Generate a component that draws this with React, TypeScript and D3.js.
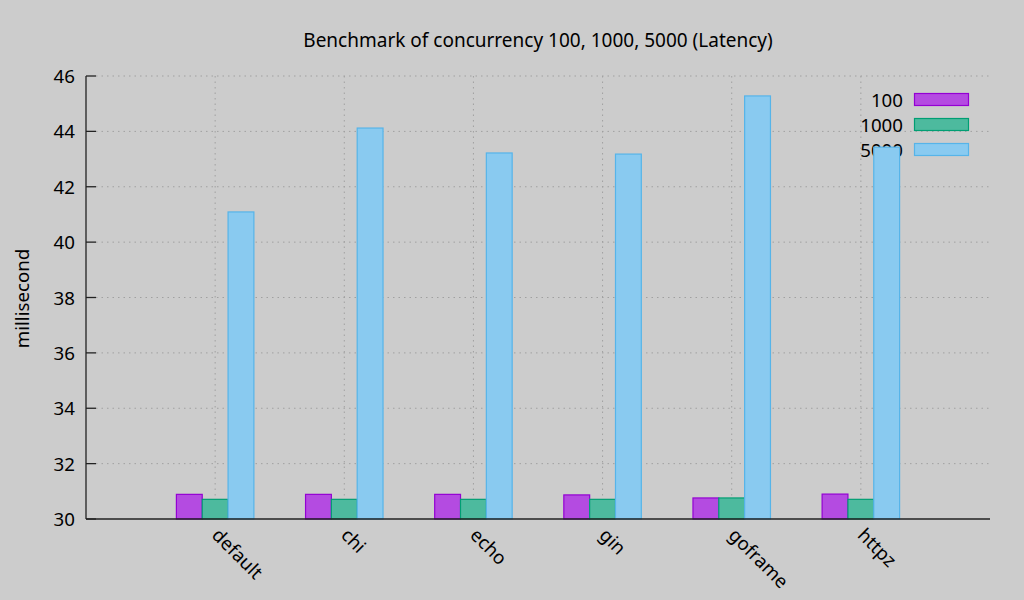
import React from "react";
import * as d3 from "d3";

const categories = ["default", "chi", "echo", "gin", "goframe", "httpz"];
const seriesNames = ["100", "1000", "5000"];
const c100 = [30.89, 30.89, 30.89, 30.87, 30.76, 30.9];
const c1000 = [30.71, 30.71, 30.71, 30.71, 30.76, 30.71];
const c5000 = [41.09, 44.12, 43.22, 43.18, 45.28, 43.43];
const yTicks = [30, 32, 34, 36, 38, 40, 42, 44, 46];
const fills = ["#b44be1", "#4dba9e", "#89caf0"];
const strokes = ["#9400d3", "#009e73", "#56b4e9"];

const W = 1024, H = 600;
const left = 86, right = 990, top = 76, bottom = 519;
const font = "'Noto Sans', 'Open Sans', sans-serif";
const fs = 18.7;

export default function App() {
  const x = d3.scaleLinear().domain([-1, 6]).range([left, right]);
  const y = d3.scaleLinear().domain([30, 46]).range([bottom, top]);
  const series = [c100, c1000, c5000];
  const bw = 0.2;
  const offsets = [-0.2, 0, 0.2];
  return (
    <svg width={W} height={H} style={{ position: "absolute", left: 0, top: 0, background: "#cccccc" }}>
      <rect x={0} y={0} width={W} height={H} fill="#cccccc" />
      <text x={538} y={47} textAnchor="middle" fontFamily={font} fontSize={19} fill="#000">
        Benchmark of concurrency 100, 1000, 5000 (Latency)
      </text>
      {/* horizontal grid */}
      {yTicks.slice(1).map((t) => (
        <line key={"hg" + t} x1={left + 10} x2={right} y1={y(t)} y2={y(t)} stroke="#a0a0a0" strokeDasharray="1.5,4" />
      ))}
      {/* vertical grid */}
      {categories.map((c, i) => (
        <line key={"vg" + c} x1={x(i)} x2={x(i)} y1={top} y2={bottom - 10} stroke="#a0a0a0" strokeDasharray="1.5,4" />
      ))}
      {/* y ticks */}
      {yTicks.map((t) => (
        <g key={"yt" + t}>
          <line x1={left} x2={left + 10} y1={y(t)} y2={y(t)} stroke="#222" strokeWidth={1.3} />
          <text x={75} y={y(t) + 7} textAnchor="end" fontFamily={font} fontSize={fs} fill="#000">{t}</text>
        </g>
      ))}
      {/* x ticks */}
      {categories.map((c, i) => (
        <g key={"xt" + c}>
          <line x1={x(i)} x2={x(i)} y1={bottom} y2={bottom - 10} stroke="#222" strokeWidth={1.3} />
          <text transform={`translate(${x(i) + 7},${bottom + 6}) rotate(45)`} fontFamily={font} fontSize={fs} fill="#000" dominantBaseline="hanging">{c}</text>
        </g>
      ))}
      <text transform={`translate(29,${(top + bottom) / 2 + 1}) rotate(-90)`} textAnchor="middle" fontFamily={font} fontSize={fs} fill="#000">millisecond</text>
      {/* legend */}
      {seriesNames.map((s, i) => (
        <g key={"lg" + s}>
          <text x={903} y={106.5 + i * 25} textAnchor="end" fontFamily={font} fontSize={fs} fill="#000">{s}</text>
          <rect x={914.5} y={93.5 + i * 25} width={54} height={12} fill={fills[i]} stroke={strokes[i]} strokeWidth={1.2} />
        </g>
      ))}
      {/* bars */}
      {series.map((vals, si) =>
        vals.map((v, i) => {
          const x0 = x(i + offsets[si] - bw / 2);
          const x1 = x(i + offsets[si] + bw / 2);
          return (
            <rect key={"b" + si + "_" + i} x={x0} y={y(v)} width={x1 - x0} height={y(30) - y(v)} fill={fills[si]} stroke={strokes[si]} strokeWidth={1.2} />
          );
        })
      )}
      {/* axes */}
      <line x1={left} x2={left} y1={top} y2={bottom} stroke="#222" strokeWidth={1.3} />
      <line x1={left} x2={right} y1={bottom} y2={bottom} stroke="#222" strokeWidth={1.3} />
    </svg>
  );
}
